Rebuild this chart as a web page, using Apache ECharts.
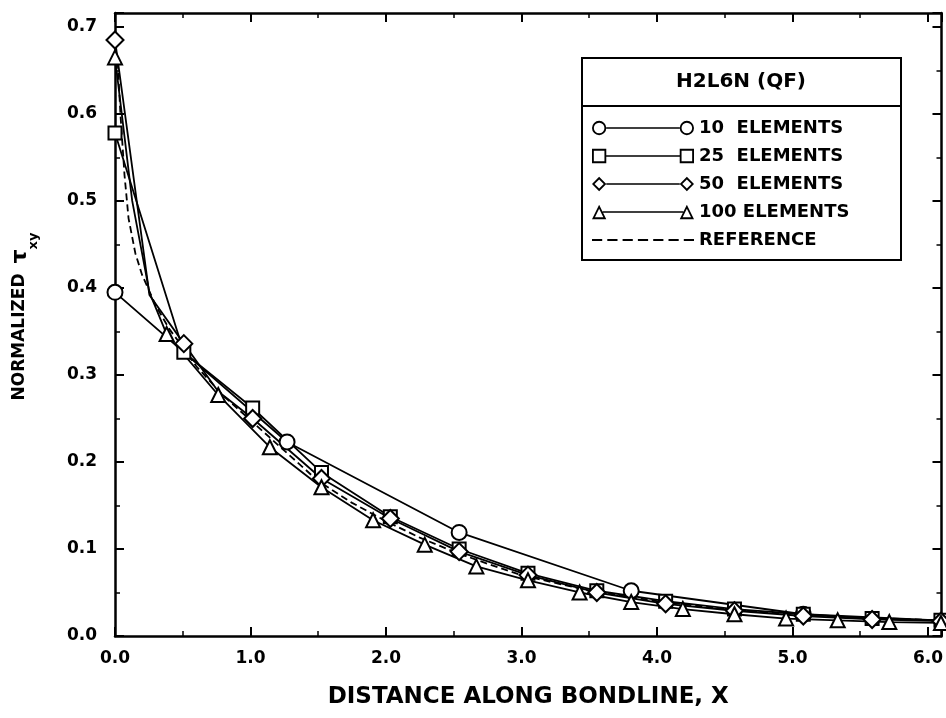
<!DOCTYPE html>
<html>
<head>
<meta charset="utf-8">
<title>H2L6N (QF)</title>
<script src="https://cdn.jsdelivr.net/npm/echarts@6/dist/echarts.min.js"></script>
<style>
  html, body { margin: 0; padding: 0; background: #fff; }
  #chart { width: 946px; height: 718px; }
</style>
</head>
<body>
<div id="chart"></div>
<script>
// values
const x10 = [0, 1.27, 2.54, 3.81, 5.08, 6.35];
const y10 = [0.395, 0.223, 0.119, 0.052, 0.025, 0.016];

const x25 = [0, 0.508, 1.016, 1.524, 2.032, 2.54, 3.048, 3.556, 4.064, 4.572, 5.08, 5.588, 6.096];
const y25 = [0.578, 0.326, 0.262, 0.188, 0.137, 0.100, 0.072, 0.052, 0.040, 0.031, 0.025, 0.020, 0.018];

const x50 = [0, 0.254, 0.508, 0.762, 1.016, 1.524, 2.032, 2.54, 3.048, 3.556, 4.064, 4.572, 5.08, 5.588, 6.096];
const y50 = [0.685, 0.392, 0.336, 0.281, 0.250, 0.181, 0.135, 0.097, 0.070, 0.050, 0.037, 0.029, 0.023, 0.019, 0.017];
const plain50 = [0.254, 0.762]; // nodes drawn without a marker

const x100 = [0, 0.127, 0.254, 0.381, 0.762, 1.143, 1.524, 1.905, 2.286, 2.667, 3.048, 3.429, 3.81, 4.191, 4.572, 4.953, 5.334, 5.715, 6.096];
const y100 = [0.665, 0.50, 0.395, 0.347, 0.277, 0.217, 0.171, 0.133, 0.105, 0.080, 0.064, 0.050, 0.039, 0.031, 0.025, 0.020, 0.018, 0.016, 0.015];
const plain100 = [0.127, 0.254];

const xRef = [0.02, 0.04, 0.07, 0.1, 0.15, 0.2, 0.3, 0.4, 0.5, 0.6, 0.8, 1.0, 1.25, 1.5, 1.75, 2.0, 2.25, 2.5, 2.75, 3.0, 3.5, 4.0, 4.5, 5.0, 5.5, 6.1];
const yRef = [0.66, 0.60, 0.53, 0.48, 0.44, 0.415, 0.38, 0.353, 0.332, 0.31, 0.276, 0.248, 0.213, 0.178, 0.153, 0.132, 0.113, 0.097, 0.083, 0.070, 0.052, 0.040, 0.031, 0.025, 0.021, 0.018];

const names = ['10  ELEMENTS', '25  ELEMENTS', '50  ELEMENTS', '100 ELEMENTS', 'REFERENCE'];

const FONT = 'DejaVu Sans';

function pts(xs, ys, plain) {
  return xs.map((x, i) => {
    const item = { value: [x, ys[i]] };
    if (plain && plain.indexOf(x) >= 0) item.symbol = 'none';
    return item;
  });
}

// legend icons: marker - line - marker, drawn in a 100 x 14 box
const ring = (cx) => 'M' + (cx - 7) + ',7A7,7,0,1,1,' + (cx + 7) + ',7A7,7,0,1,1,' + (cx - 7) + ',7Z' +
  'M' + (cx - 5.2) + ',7A5.2,5.2,0,1,0,' + (cx + 5.2) + ',7A5.2,5.2,0,1,0,' + (cx - 5.2) + ',7Z';
const box = (cx) => 'M' + (cx - 7) + ',0L' + (cx + 7) + ',0L' + (cx + 7) + ',14L' + (cx - 7) + ',14Z' +
  'M' + (cx - 5.2) + ',1.8L' + (cx - 5.2) + ',12.2L' + (cx + 5.2) + ',12.2L' + (cx + 5.2) + ',1.8Z';
const dia = (cx) => 'M' + cx + ',0L' + (cx + 7) + ',7L' + cx + ',14L' + (cx - 7) + ',7Z' +
  'M' + cx + ',2.5L' + (cx - 4.5) + ',7L' + cx + ',11.5L' + (cx + 4.5) + ',7Z';
const tri = (cx) => 'M' + cx + ',0L' + (cx + 7) + ',14L' + (cx - 7) + ',14Z' +
  'M' + cx + ',3.8L' + (cx - 4.1) + ',12.2L' + (cx + 4.1) + ',12.2Z';
const bar = (a, b) => 'M' + a + ',6.2L' + b + ',6.2L' + b + ',7.8L' + a + ',7.8Z';
let dashes = '';
for (let i = 0; i < 7; i++) dashes += 'M' + (i * 15) + ',6L' + (i * 15 + 10) + ',6L' + (i * 15 + 10) + ',8L' + (i * 15) + ',8Z';

const icons = [
  'path://' + ring(7) + bar(14, 86) + ring(93),
  'path://' + box(7) + bar(14, 86) + box(93),
  'path://' + dia(7) + bar(14, 86) + dia(93),
  'path://' + tri(7) + bar(10.5, 89.5) + tri(93),
  'path://' + dashes
];

const labelFmt = (step) => (v) => {
  const k = v / step;
  return Math.abs(k - Math.round(k)) < 1e-6 ? v.toFixed(1) : '';
};

function frameAxis(isX, main) {
  return {
    type: 'value',
    min: 0,
    max: isX ? 6.1 : 0.716,
    interval: isX ? 1 : 0.1,
    position: isX ? (main ? 'bottom' : 'top') : (main ? 'left' : 'right'),
    axisLine: { show: true, onZero: false, lineStyle: { color: '#000', width: 2.5 } },
    axisTick: { show: true, inside: true, length: 9, lineStyle: { color: '#000', width: 2 } },
    minorTick: { show: true, splitNumber: 2, length: 5, lineStyle: { color: '#000', width: 1.5 } },
    splitLine: { show: false },
    axisLabel: {
      show: main,
      showMaxLabel: isX ? false : true,
      formatter: labelFmt(isX ? 1 : 0.1),
      color: '#000',
      fontFamily: FONT,
      fontWeight: 'bold',
      fontSize: 17,
      margin: isX ? 14 : 18
    }
  };
}

const xMain = frameAxis(true, true);
xMain.name = 'DISTANCE ALONG BONDLINE, X';
xMain.nameLocation = 'middle';
xMain.nameGap = 50;
xMain.nameTextStyle = { color: '#000', fontFamily: FONT, fontWeight: 'bold', fontSize: 23 };

const yMain = frameAxis(false, true);
yMain.name = '{n|NORMALIZED}   {t|τ}{s|xy}';
yMain.nameLocation = 'middle';
yMain.nameRotate = 90;
yMain.nameGap = 75;
yMain.nameTextStyle = {
  color: '#000',
  padding: [0, 0, 0, 16],
  rich: {
    n: { fontFamily: FONT, fontWeight: 'bold', fontSize: 17, lineHeight: 40, color: '#000' },
    t: { fontFamily: FONT, fontWeight: 'bold', fontSize: 22, lineHeight: 40, color: '#000' },
    s: { fontFamily: FONT, fontWeight: 'bold', fontSize: 13, lineHeight: 12, verticalAlign: 'bottom', color: '#000' }
  }
};

function line(name, data, symbol, size, dashed) {
  return {
    name: name,
    type: 'line',
    data: data,
    symbol: symbol,
    symbolSize: size,
    showSymbol: symbol !== 'none',
    clip: true,
    animation: false,
    lineStyle: { color: '#000', width: 1.8, type: dashed ? [7, 4] : 'solid' },
    itemStyle: { color: '#000', borderColor: '#000', borderWidth: 1.8 }
  };
}

const chart = echarts.init(document.getElementById('chart'), null, { renderer: 'canvas' });

chart.setOption({
  backgroundColor: '#fff',
  animation: false,
  grid: { left: 115, right: 2, top: 13, bottom: 82 },
  xAxis: [xMain, frameAxis(true, false)],
  yAxis: [yMain, frameAxis(false, false)],
  legend: {
    orient: 'vertical',
    left: 592,
    top: 119,
    padding: 0,
    itemWidth: 102,
    itemHeight: 15,
    itemGap: 10,
    selectedMode: false,
    z: 10,
    itemStyle: { color: '#000', borderWidth: 0 },
    textStyle: { color: '#000', fontFamily: FONT, fontWeight: 'bold', fontSize: 18, lineHeight: 16 },
    data: names.map((n, i) => ({ name: n, icon: icons[i] }))
  },
  graphic: [
    {
      type: 'rect', z: 5,
      shape: { x: 582, y: 58, width: 319, height: 202 },
      style: { fill: '#fff', stroke: '#000', lineWidth: 2 }
    },
    {
      type: 'line', z: 6,
      shape: { x1: 582, y1: 106, x2: 901, y2: 106 },
      style: { stroke: '#000', lineWidth: 2 }
    },
    {
      type: 'text', z: 6, x: 741, y: 82,
      style: {
        text: 'H2L6N (QF)', fill: '#000', fontFamily: FONT, fontWeight: 'bold', fontSize: 20,
        align: 'center', verticalAlign: 'middle'
      }
    }
  ],
  series: [
    line(names[4], pts(xRef, yRef), 'none', 0, true),
    line(names[0], pts(x10, y10), 'emptyCircle', 15),
    line(names[1], pts(x25, y25), 'emptyRect', 13),
    line(names[2], pts(x50, y50, plain50), 'emptyDiamond', 17),
    line(names[3], pts(x100, y100, plain100), 'emptyTriangle', 14)
  ]
});
</script>
</body>
</html>
